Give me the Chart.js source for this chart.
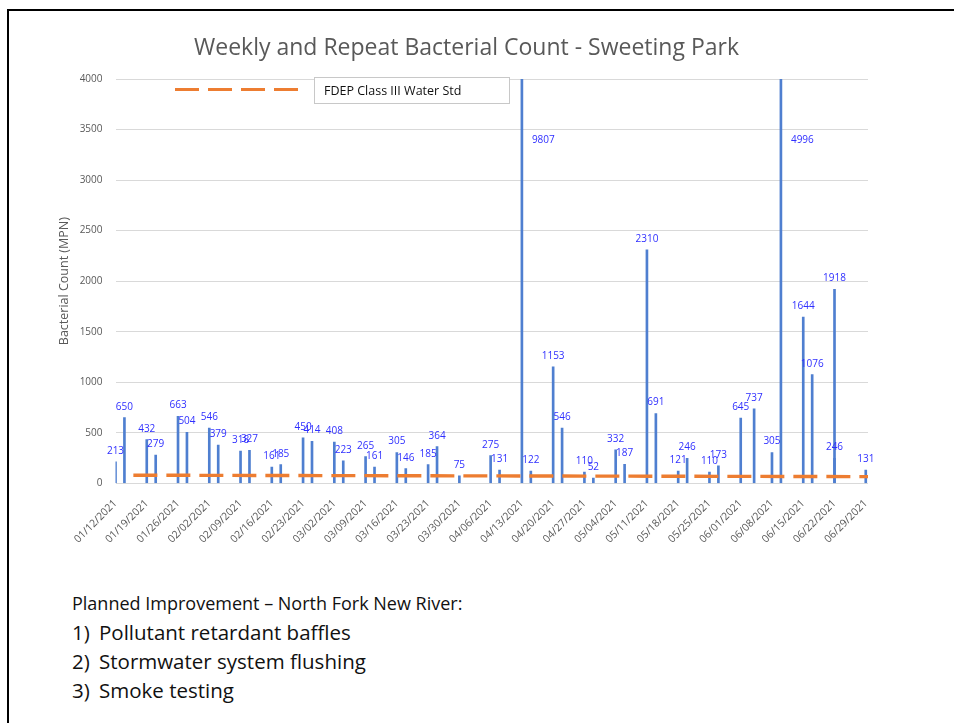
<!DOCTYPE html>
<html>
<head>
<meta charset="utf-8">
<script src="https://cdn.jsdelivr.net/npm/chart.js@4"></script>
<style>
  body { margin: 0; background: #fff; font-family: "Open Sans", sans-serif; }
  #wrap { position: relative; width: 954px; height: 723px; overflow: hidden; }
  #grafico { position: absolute; left: 0; top: 0; }
  .borda-topo { position: absolute; left: 7px; top: 9px; width: 947px; height: 2px; background: #000; }
  .borda-esq { position: absolute; left: 7px; top: 9px; width: 2px; height: 714px; background: #000; }
  #titulo { position: absolute; left: 0; width: 933px; top: 30px; text-align: center; font-size: 23px; color: #595959; }
  #texto { position: absolute; left: 72px; top: 589px; color: #111; line-height: 29px; }
  #texto .cab { font-size: 18px; }
  #texto .item { font-size: 20.5px; }
  #texto .num { display: inline-block; width: 27px; }
</style>
</head>
<body>
<div id="wrap">
  <canvas id="grafico" width="954" height="560"></canvas>
  <div class="borda-topo"></div>
  <div class="borda-esq"></div>
  <div id="titulo">Weekly and Repeat Bacterial Count - Sweeting Park</div>
  <div id="texto">
    <div class="cab">Planned Improvement – North Fork New River:</div>
    <div class="item"><span class="num">1)</span>Pollutant retardant baffles</div>
    <div class="item"><span class="num">2)</span>Stormwater system flushing</div>
    <div class="item"><span class="num">3)</span>Smoke testing</div>
  </div>
</div>
<script>
// dados das amostras (semanais e repetições)
const datasAmostra = [
  '01/12/2021', '01/14/2021', '01/19/2021', '01/21/2021', '01/26/2021', '01/28/2021',
  '02/02/2021', '02/04/2021', '02/09/2021', '02/11/2021', '02/16/2021', '02/18/2021',
  '02/23/2021', '02/25/2021', '03/02/2021', '03/04/2021', '03/09/2021', '03/11/2021',
  '03/16/2021', '03/18/2021', '03/23/2021', '03/25/2021', '03/30/2021', '04/06/2021',
  '04/08/2021', '04/13/2021', '04/15/2021', '04/20/2021', '04/22/2021', '04/27/2021',
  '04/29/2021', '05/04/2021', '05/06/2021', '05/11/2021', '05/13/2021', '05/18/2021',
  '05/20/2021', '05/25/2021', '05/27/2021', '06/01/2021', '06/04/2021', '06/08/2021',
  '06/10/2021', '06/15/2021', '06/17/2021', '06/22/2021', '06/22/2021', '06/29/2021'
];
const contagens = [
  213, 650, 432, 279, 663, 504,
  546, 379, 318, 327, 161, 185,
  450, 414, 408, 223, 265, 161,
  305, 146, 185, 364, 75, 275,
  131, 9807, 122, 1153, 546, 110,
  52, 332, 187, 2310, 691, 121,
  246, 110, 173, 645, 737, 305,
  4996, 1644, 1076, 1918, 246, 131
];

// padrão FDEP (linha tracejada)
const datasPadrao = ['01/16/2021', '06/30/2021'];
const valoresPadrao = [80, 66];

// rótulos do eixo x
const rotulosX = [
  '01/12/2021', '01/19/2021', '01/26/2021', '02/02/2021', '02/09/2021', '02/16/2021',
  '02/23/2021', '03/02/2021', '03/09/2021', '03/16/2021', '03/23/2021', '03/30/2021',
  '04/06/2021', '04/13/2021', '04/20/2021', '04/27/2021', '05/04/2021', '05/11/2021',
  '05/18/2021', '05/25/2021', '06/01/2021', '06/08/2021', '06/15/2021', '06/22/2021',
  '06/29/2021'
];
const ticksY = [0, 500, 1000, 1500, 2000, 2500, 3000, 3500, 4000];

function diaDe(txt) {
  const [m, d, a] = txt.split('/').map(Number);
  const base = Date.UTC(2021, 0, 12);
  return Math.round((Date.UTC(a, m - 1, d) - base) / 86400000);
}

const diasTicks = rotulosX.map(diaDe);
const pontosBarras = datasAmostra.map((d, i) => ({ x: diaDe(d), y: contagens[i] }));
const pontosPadrao = datasPadrao.map((d, i) => ({ x: diaDe(d), y: valoresPadrao[i] }));

const AZUL_ROTULO = '#2f2fff';

const rotulosValores = {
  id: 'rotulosValores',
  afterDatasetsDraw(chart) {
    const meta = chart.getDatasetMeta(0);
    const topo = chart.scales.y.max;
    const ctx = chart.ctx;
    ctx.save();
    ctx.font = '10px "Open Sans"';
    ctx.fillStyle = AZUL_ROTULO;
    meta.data.forEach((el, i) => {
      const v = contagens[i];
      if (v > topo) {
        ctx.textAlign = 'left';
        ctx.textBaseline = 'middle';
        ctx.fillText(String(v), el.x + 10, chart.chartArea.top + 61);
      } else {
        ctx.textAlign = 'center';
        ctx.textBaseline = 'alphabetic';
        ctx.fillText(String(v), el.x, el.y - 8);
      }
    });
    ctx.restore();
  }
};

const legendaCaixa = {
  id: 'legendaCaixa',
  afterDraw(chart) {
    const ctx = chart.ctx;
    ctx.save();
    ctx.strokeStyle = '#ED7D31';
    ctx.lineWidth = 3;
    ctx.setLineDash([24, 9]);
    ctx.beginPath();
    ctx.moveTo(175, 89.5);
    ctx.lineTo(298, 89.5);
    ctx.stroke();
    ctx.setLineDash([]);
    ctx.fillStyle = '#fff';
    ctx.fillRect(314, 77.5, 195, 26);
    ctx.strokeStyle = '#c8c8c8';
    ctx.lineWidth = 1;
    ctx.strokeRect(314.5, 77.5, 195, 26);
    ctx.fillStyle = '#111';
    ctx.font = '12.5px "Open Sans"';
    ctx.textAlign = 'left';
    ctx.textBaseline = 'middle';
    ctx.fillText(chart.data.datasets[1].label, 324, 91);
    ctx.restore();
  }
};

Chart.defaults.font.family = '"Open Sans"';
Chart.defaults.color = '#595959';

const ctx = document.getElementById('grafico').getContext('2d');
new Chart(ctx, {
  type: 'bar',
  data: {
    datasets: [
      {
        label: 'Bacterial Count',
        data: pontosBarras,
        backgroundColor: '#4f7fd0',
        barThickness: 2,
        order: 2
      },
      {
        type: 'line',
        label: 'FDEP Class III Water Std',
        data: pontosPadrao,
        borderColor: '#ED7D31',
        borderWidth: 3.4,
        borderDash: [24, 9],
        pointRadius: 0,
        order: 1
      }
    ]
  },
  options: {
    responsive: false,
    animation: false,
    layout: { padding: { left: 54, right: 86, top: 79, bottom: 6.7 } },
    plugins: {
      legend: { display: false },
      tooltip: { enabled: false }
    },
    scales: {
      x: {
        type: 'linear',
        min: 0,
        max: 168.5,
        offset: false,
        grid: { display: false, offset: false },
        border: { display: false },
        afterBuildTicks(scale) {
          scale.ticks = diasTicks.map(v => ({ value: v }));
        },
        afterFit(scale) { scale.height = 70; },
        ticks: {
          autoSkip: false,
          minRotation: 45,
          maxRotation: 45,
          padding: 6,
          font: { size: 10.5 },
          callback: (v, i) => rotulosX[i]
        }
      },
      y: {
        min: 0,
        max: 4000,
        afterBuildTicks(scale) {
          scale.ticks = ticksY.map(v => ({ value: v }));
        },
        afterFit(scale) { scale.width = 61.5; },
        grid: { color: '#d9d9d9', drawTicks: false },
        border: { display: false },
        ticks: { padding: 13, font: { size: 10 }, callback: v => String(v) },
        title: {
          display: true,
          text: 'Bacterial Count (MPN)',
          font: { size: 12.5 },
          color: '#595959',
          padding: { top: 3, bottom: 4 }
        }
      }
    }
  },
  plugins: [rotulosValores, legendaCaixa]
});
</script>
</body>
</html>
